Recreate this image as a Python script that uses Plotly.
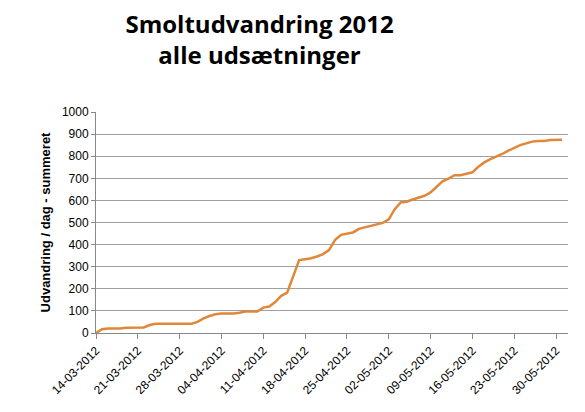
import plotly.graph_objects as go
import pandas as pd

dates = pd.date_range("2012-03-14", "2012-05-31", freq="D")
summeret = [0, 17, 20, 20, 20, 24, 25, 25, 25, 36, 42, 42, 42, 42, 42, 42, 42, 50, 66, 77,
            85, 88, 88, 88, 92, 97, 97, 97, 115, 120, 140, 168, 183, 258, 330, 334, 338, 346, 357, 375,
            420, 444, 450, 455, 471, 477, 483, 489, 498, 514, 560, 591, 594, 604, 613, 621, 636, 659, 686, 699,
            714, 714, 719, 727, 752, 772, 787, 798, 810, 825, 837, 850, 858, 866, 869, 869, 873, 875, 875]
tick_dates = pd.date_range("2012-03-14", "2012-05-30", freq="7D")
tick_labels = [d.strftime("%d-%m-%Y") for d in tick_dates]

fig = go.Figure(go.Scatter(
    x=dates, y=summeret, mode="lines",
    line=dict(color="#E0873A", width=2.5), showlegend=False
))

fig.update_layout(
    width=585, height=412,
    margin=dict(l=88, r=25, t=104, b=87, autoexpand=False),
    paper_bgcolor="white", plot_bgcolor="white",
    font=dict(family="Liberation Sans, Arial", size=12, color="black"),
    title=dict(text="<b>Smoltudvandring 2012<br>alle udsætninger</b>",
               x=0.43, xanchor="center", y=0.94, yanchor="top",
               font=dict(size=24, family="Open Sans, Liberation Sans")),
)
fig.update_xaxes(
    range=[pd.Timestamp("2012-03-14"), pd.Timestamp("2012-06-01")],
    tickvals=tick_dates, ticktext=tick_labels, tickangle=-45, automargin=False,
    showgrid=False, showline=True, linecolor="#888", ticks="outside",
    ticklen=5, tickcolor="#888", tickfont=dict(size=12)
)
fig.update_yaxes(
    range=[0, 1000], dtick=100, showgrid=True, gridcolor="#A0A0A0", automargin=False,
    showline=True, linecolor="#888", ticks="outside", ticklen=4, tickcolor="#888",
    title=dict(text="<b>Udvandring / dag - summeret</b>", font=dict(size=13), standoff=8),
    tickfont=dict(size=12)
)

fig.write_html("out.html")
